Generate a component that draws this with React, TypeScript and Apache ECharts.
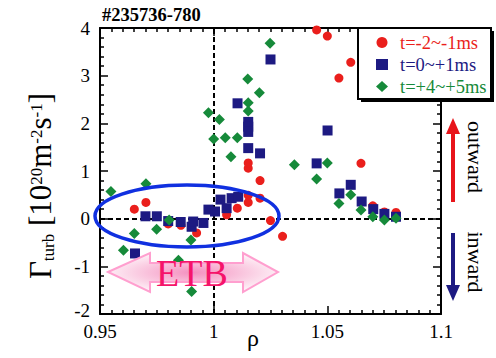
import React, { useEffect, useRef } from "react";
import * as echarts from "echarts";

const FONT = "'Liberation Serif', 'Times New Roman', serif";

const seriesNames = ["t=-2~-1ms", "t=0~+1ms", "t=+4~+5ms"];
const seriesColors = ["#ea1f1c", "#1d1a82", "#168a3a"];

const redPoints: [number, number][] = [
  [0.9651, 0.2], [0.9702, 0.34], [0.98, -0.11], [0.9856, -0.14], [0.9925, -0.3],
  [1.0057, 0.08], [1.0104, 0.22], [1.0152, 0.34], [1.0152, 0.49], [1.0204, 0.43],
  [1.0204, 0.8], [1.0152, 1.06], [1.0152, 1.17], [1.025, -0.04], [1.0303, -0.37],
  [1.0453, 3.96], [1.05, 3.83], [1.0551, 2.95], [1.0603, 3.28], [1.0648, 1.16],
  [1.07, 0.27], [1.0751, 0.14], [1.0802, 0.13],
];

const navyPoints: [number, number][] = [
  [0.9654, -0.73], [0.97, 0.05], [0.975, 0.05], [0.98, -0.05], [0.9855, -0.07],
  [0.9903, -0.17], [0.991, -0.06], [0.9955, -0.09], [0.9977, 0.19], [1.0006, 0.15],
  [1.003, 0.4], [1.0057, 0.22], [1.0079, 0.43], [1.0108, 0.46],
  [1.0105, 2.42], [1.0152, 2.03], [1.0152, 1.93], [1.0152, 1.82], [1.0152, 1.48],
  [1.0204, 1.37], [1.025, 3.34],
  [1.0453, 1.16], [1.0501, 1.85], [1.0553, 0.53], [1.0603, 0.71], [1.0651, 0.36],
  [1.0702, 0.2], [1.0751, 0.1], [1.0802, 0.04],
];

const greenPoints: [number, number][] = [
  [0.9548, 0.57], [0.9603, -0.66], [0.9651, -0.31], [0.9702, 0.73], [0.9749, -0.22],
  [0.9804, -0.03], [0.9845, -0.87], [0.99, -0.45], [0.9903, -1.53],
  [0.9977, 2.22], [1.0, 1.67], [1.0025, 2.08], [1.0051, 1.7], [1.0076, 1.3],
  [1.0104, 1.7], [1.015, 2.93], [1.0152, 2.43], [1.0152, 2.26], [1.0201, 2.64],
  [1.0248, 3.68], [1.0355, 1.13],
  [1.0453, 0.83], [1.05, 1.17], [1.0551, 0.32], [1.0603, 0.5], [1.0648, 0.18],
  [1.07, 0.04], [1.0751, -0.03], [1.0802, 0.01],
];

const xMin = 0.95;
const xMax = 1.1;
const xStep = 0.05;
const yMin = -2;
const yMax = 4;
const yStep = 1;

const titleText = "#235736-780";
const xName = "ρ";
const etbText = "ETB";
const outwardText = "outward";
const inwardText = "inward";

export default function App() {
  const ref = useRef<HTMLDivElement>(null);
  useEffect(() => {
    if (!ref.current) return;
    const chart = echarts.init(ref.current, undefined, { renderer: "svg" });

    const axisCommon = {
      min: xMin,
      max: xMax,
      interval: xStep,
      axisLine: { show: true, onZero: false, lineStyle: { color: "#000", width: 2 } },
      axisTick: { show: true, inside: true, length: 8, lineStyle: { color: "#000", width: 1.5 } },
      minorTick: { show: true, splitNumber: 10, length: 4, lineStyle: { color: "#000", width: 1.5 } },
      splitLine: { show: false },
    };
    const yCommon = {
      min: yMin,
      max: yMax,
      interval: yStep,
      axisLine: { show: true, onZero: false, lineStyle: { color: "#000", width: 2 } },
      axisTick: { show: true, inside: true, length: 8, lineStyle: { color: "#000", width: 1.5 } },
      minorTick: { show: true, splitNumber: 5, length: 4, lineStyle: { color: "#000", width: 1.5 } },
      splitLine: { show: false },
    };
    const labelStyle = { color: "#000", fontFamily: FONT, fontSize: 19 };

    const symbols = ["circle", "rect", "diamond"];
    const sizes = [9, 10, 11];
    const datas = [redPoints, navyPoints, greenPoints];

    const series: any[] = datas.map((d, i) => ({
      name: seriesNames[i],
      type: "scatter",
      data: d,
      symbol: symbols[i],
      symbolSize: sizes[i],
      itemStyle: { color: seriesColors[i], opacity: 1 },
      z: 3,
    }));
    series[0].markLine = {
      silent: true,
      symbol: "none",
      label: { show: false },
      lineStyle: { color: "#000", type: [5, 3], width: 2 },
      data: [{ xAxis: 1 }, { yAxis: 0 }],
      z: 2,
    };

    const ylabelRich = "{g|Γ}{s|turb}{g| [10}{p|20}{g|m}{p|-2}{g|s}{p|-1}{g|]}";

    chart.setOption({
      animation: false,
      backgroundColor: "#fff",
      title: {
        text: titleText,
        left: 102,
        top: 5,
        padding: 0,
        textStyle: { fontFamily: FONT, fontSize: 18.5, fontWeight: "bold", color: "#000" },
      },
      grid: { left: 100, right: 55, top: 28, bottom: 44 },
      xAxis: [
        {
          type: "value",
          position: "bottom",
          ...axisCommon,
          axisLabel: { ...labelStyle, margin: 8 },
        },
        {
          type: "value",
          position: "top",
          ...axisCommon,
          axisLabel: { show: false },
        },
      ],
      yAxis: [
        {
          type: "value",
          position: "left",
          ...yCommon,
          axisLabel: {
            ...labelStyle,
            margin: 10,
            formatter: (v: number) => (v === yMin ? "{lo|" + v + "}" : String(v)),
            rich: { lo: { fontFamily: FONT, fontSize: 19, color: "#000", padding: [0, 0, 8, 0] } },
          },
        },
        {
          type: "value",
          position: "right",
          ...yCommon,
          axisLabel: { show: false },
        },
      ],
      legend: {
        orient: "vertical",
        left: 376,
        top: 33,
        padding: 0,
        itemWidth: 12,
        itemHeight: 11,
        itemGap: 3,
        z: 30,
        textStyle: { fontFamily: FONT, fontSize: 18.5, lineHeight: 19, padding: [0, 0, 0, 7] },
        data: seriesNames.map((n, i) => ({ name: n, textStyle: { color: seriesColors[i] } })),
      },
      graphic: [
        {
          type: "rect",
          z: 20,
          shape: { x: 361, y: 31, width: 133, height: 71 },
          style: { fill: "#000" },
        },
        {
          type: "rect",
          z: 21,
          shape: { x: 358, y: 28, width: 133, height: 71 },
          style: { fill: "#fff", stroke: "#000", lineWidth: 2 },
        },
        {
          type: "polygon",
          z: 5,
          shape: {
            points: [
              [108, 272], [150, 253], [150, 263], [243, 263], [243, 253],
              [278, 272], [243, 292], [243, 282], [150, 282], [150, 292],
            ],
          },
          style: {
            fill: new echarts.graphic.RadialGradient(0.5, 0.5, 0.6, [
              { offset: 0, color: "#f48fbf" },
              { offset: 1, color: "#ffffff" },
            ]),
            stroke: "#ff9fcf",
            lineWidth: 2,
          },
        },
        {
          type: "text",
          z: 6,
          x: 192,
          y: 273,
          style: {
            text: etbText,
            fontFamily: FONT,
            fontSize: 38,
            fill: "#f5146a",
            align: "center",
            verticalAlign: "middle",
          },
        },
        {
          type: "ellipse",
          z: 8,
          shape: { cx: 187, cy: 216, rx: 92, ry: 31 },
          style: { fill: "none", stroke: "#1030e0", lineWidth: 3.5 },
        },
        {
          type: "line",
          z: 8,
          shape: { x1: 453, y1: 202, x2: 453, y2: 132 },
          style: { stroke: "#e8141a", lineWidth: 4 },
        },
        {
          type: "polygon",
          z: 8,
          shape: { points: [[446, 134], [460, 134], [453, 118]] },
          style: { fill: "#e8141a" },
        },
        {
          type: "line",
          z: 8,
          shape: { x1: 453, y1: 233, x2: 453, y2: 287 },
          style: { stroke: "#1d1a82", lineWidth: 4 },
        },
        {
          type: "polygon",
          z: 8,
          shape: { points: [[446, 285], [460, 285], [453, 301]] },
          style: { fill: "#1d1a82" },
        },
        {
          type: "text",
          z: 8,
          x: 475,
          y: 157,
          rotation: -Math.PI / 2,
          style: {
            text: outwardText,
            fontFamily: FONT,
            fontSize: 22,
            fill: "#000",
            align: "center",
            verticalAlign: "middle",
          },
        },
        {
          type: "text",
          z: 8,
          x: 475,
          y: 262,
          rotation: -Math.PI / 2,
          style: {
            text: inwardText,
            fontFamily: FONT,
            fontSize: 22,
            fill: "#000",
            align: "center",
            verticalAlign: "middle",
          },
        },
        {
          type: "text",
          z: 8,
          x: 253,
          y: 338,
          style: {
            text: xName,
            fontFamily: FONT,
            fontSize: 24,
            fill: "#000",
            align: "center",
            verticalAlign: "middle",
          },
        },
        {
          type: "text",
          z: 8,
          x: 40,
          y: 186,
          rotation: Math.PI / 2,
          style: {
            text: ylabelRich,
            fontFamily: FONT,
            fill: "#000",
            align: "center",
            verticalAlign: "middle",
            rich: {
              g: { fontFamily: FONT, fontSize: 31, lineHeight: 34, verticalAlign: "middle", fill: "#000" },
              s: { fontFamily: FONT, fontSize: 17, lineHeight: 17, verticalAlign: "bottom", padding: [26, 0, 0, 0], fill: "#000" },
              p: { fontFamily: FONT, fontSize: 17, lineHeight: 17, verticalAlign: "top", padding: [5, 0, 0, 0], fill: "#000" },
            },
          },
        },
      ],
      series,
    });
    return () => chart.dispose();
  }, []);
  return <div ref={ref} style={{ position: "absolute", left: 0, top: 0, width: 496, height: 358 }} />;
}
